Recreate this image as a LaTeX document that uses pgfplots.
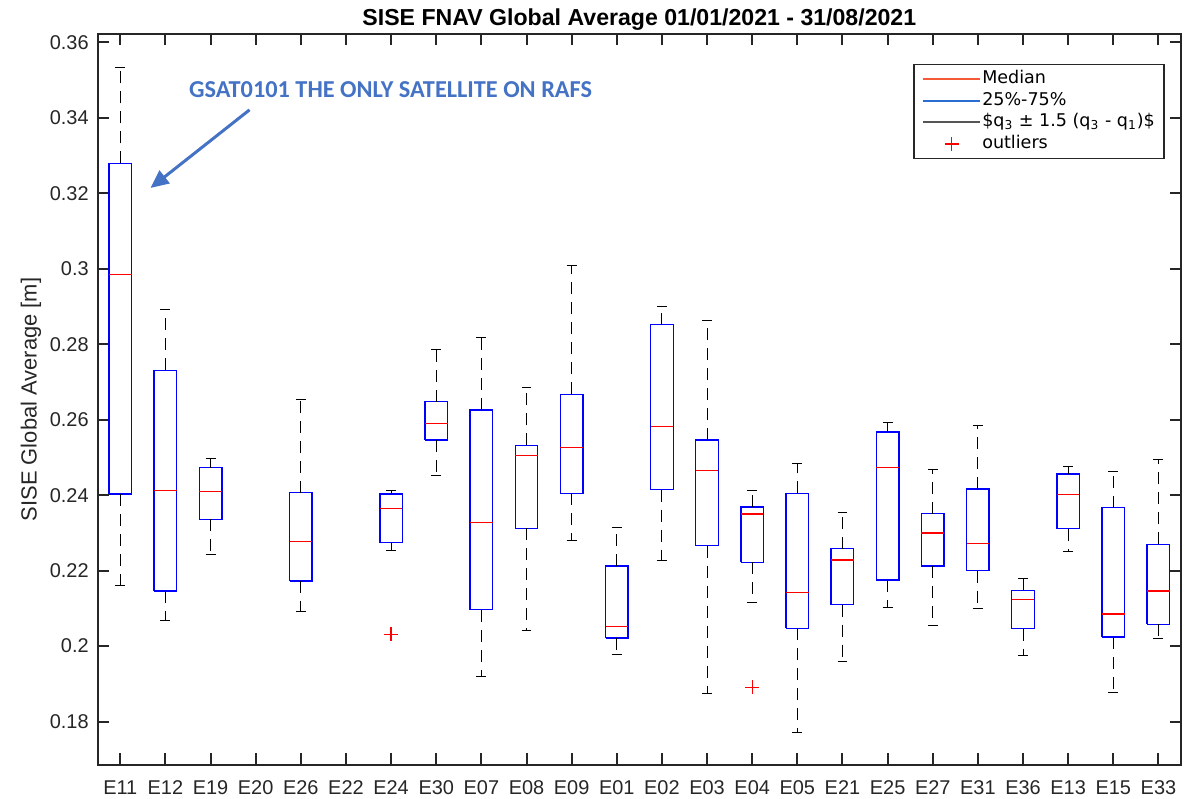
\documentclass[border=0pt]{standalone}
\usepackage{pgfplots}
\pgfplotsset{compat=1.18}
\usetikzlibrary{arrows.meta}
\usepackage{fontspec}
\setmainfont{Liberation Sans}
\newfontfamily\legfont{DejaVu Sans}
\newfontfamily\calib{Carlito}

\definecolor{axgray}{RGB}{38,38,38}
\definecolor{annblue}{RGB}{68,114,196}
\definecolor{legred}{RGB}{245,90,55}
\definecolor{legblue}{RGB}{40,110,210}
\definecolor{leggray}{RGB}{85,85,85}
\definecolor{outred}{RGB}{255,0,0}

\pgfplotsset{
  lineleg/.style={legend image code/.code={\draw[##1] (0bp,0bp) -- (28.5bp,0bp);}},
  markleg/.style={legend image code/.code={\draw[##1] (10.75bp,0bp) -- (17.75bp,0bp) (14.25bp,-3.5bp) -- (14.25bp,3.5bp);}},
}

% one box: #1 = position-1, #2 = position, then lower whisker, q1, median, q3, upper whisker
\newcommand{\satbox}[7]{%
  \addplot[forget plot, blue, line width=0.7bp]
    coordinates {(#1.75,#4) (#2.25,#4) (#2.25,#6) (#1.75,#6) (#1.75,#4)};
  \addplot[forget plot, red, line width=0.6bp]
    coordinates {(#1.75,#5) (#2.25,#5)};
  \addplot[forget plot, black, line width=0.5bp, dash pattern=on 6bp off 4bp]
    coordinates {(#2,#6) (#2,#7) (#2,nan) (#2,#4) (#2,#3)};
  \addplot[forget plot, black, line width=0.5bp]
    coordinates {(#1.89,#7) (#2.11,#7) (#2,nan) (#1.89,#3) (#2.11,#3)};
}

\begin{document}
\begin{tikzpicture}
\useasboundingbox (-48.85bp,-17bp) rectangle (547.15bp,382.5bp);
\begin{axis}[
  at={(0,0)}, anchor=south west,
  scale only axis,
  width=541.65bp, height=365.5bp,
  xmin=0.5, xmax=24.5,
  ymin=0.1685, ymax=0.3622,
  unbounded coords=jump,
  xtick={1,...,24},
  xticklabels={E11,E12,E19,E20,E26,E22,E24,E30,E07,E08,E09,E01,E02,E03,E04,E05,E21,E25,E27,E31,E36,E13,E15,E33},
  ytick={0.18,0.2,0.22,0.24,0.26,0.28,0.3,0.32,0.34,0.36},
  scaled y ticks=false,
  yticklabel style={/pgf/number format/fixed, /pgf/number format/precision=2, xshift=-1bp},
  xticklabel style={yshift=-4.2bp},
  /pgf/number format/assume math mode=true,
  tick label style={font=\fontsize{10}{12}\selectfont, text=axgray},
  tick align=inside,
  major tick length=5.75bp,
  tick style={line width=1bp, color=axgray},
  axis line style={line width=1bp, color=axgray},
  every axis title shift=0pt,
  title={\bfseries SISE FNAV Global Average 01/01/2021 - 31/08/2021},
  title style={font=\fontsize{11.6}{13}\selectfont, at={(axis description cs:0.5,1)}, anchor=base, yshift=4.4bp},
  ylabel={SISE Global Average [m]},
  ylabel style={font=\fontsize{11}{13}\selectfont, text=axgray, at={(axis description cs:0,0.5)}, anchor=center, yshift=33.4bp},
  legend style={at={(0.7529,0.959)}, anchor=north west, draw=axgray, line width=0.75bp,
    font=\legfont\fontsize{8.8}{10}\selectfont, inner xsep=4bp, inner ysep=2bp,
    cells={anchor=west}, nodes={inner sep=0.6bp, text height=7bp, text depth=2.5bp}},
  lineleg,
]
\addlegendimage{legred, line width=1bp}
\addlegendentry{Median}
\addlegendimage{legblue, line width=1bp}
\addlegendentry{25\%-75\%}
\addlegendimage{leggray, line width=1bp}
\addlegendentry{\$q\textsubscript{3} ± 1.5 (q\textsubscript{3} - q\textsubscript{1})\$}
\addlegendimage{markleg, outred, line width=0.9bp}
\addlegendentry{outliers}

\satbox{0}{1}{0.2160}{0.2403}{0.2984}{0.3279}{0.3534}
\satbox{1}{2}{0.2068}{0.2146}{0.2413}{0.2731}{0.2893}
\satbox{2}{3}{0.2244}{0.2336}{0.2409}{0.2473}{0.2498}
\satbox{4}{5}{0.2093}{0.2173}{0.2278}{0.2407}{0.2654}
\satbox{6}{7}{0.2254}{0.2274}{0.2364}{0.2403}{0.2412}
\satbox{7}{8}{0.2451}{0.2546}{0.2589}{0.2648}{0.2786}
\satbox{8}{9}{0.1919}{0.2097}{0.2327}{0.2626}{0.2817}
\satbox{9}{10}{0.2042}{0.2312}{0.2505}{0.2532}{0.2686}
\satbox{10}{11}{0.2281}{0.2405}{0.2526}{0.2667}{0.3008}
\satbox{11}{12}{0.1978}{0.2022}{0.2051}{0.2212}{0.2314}
\satbox{12}{13}{0.2228}{0.2415}{0.2583}{0.2852}{0.2901}
\satbox{13}{14}{0.1874}{0.2266}{0.2465}{0.2546}{0.2862}
\satbox{14}{15}{0.2115}{0.2222}{0.2350}{0.2369}{0.2413}
\satbox{15}{16}{0.1772}{0.2047}{0.2143}{0.2405}{0.2483}
\satbox{16}{17}{0.1958}{0.2110}{0.2228}{0.2258}{0.2354}
\satbox{17}{18}{0.2102}{0.2175}{0.2474}{0.2567}{0.2592}
\satbox{18}{19}{0.2055}{0.2212}{0.2300}{0.2351}{0.2467}
\satbox{19}{20}{0.2100}{0.2200}{0.2271}{0.2416}{0.2585}
\satbox{20}{21}{0.1974}{0.2046}{0.2123}{0.2148}{0.2179}
\satbox{21}{22}{0.2250}{0.2311}{0.2401}{0.2456}{0.2476}
\satbox{22}{23}{0.1877}{0.2024}{0.2085}{0.2367}{0.2464}
\satbox{23}{24}{0.2020}{0.2058}{0.2146}{0.2270}{0.2494}

% outliers
\addplot[forget plot, only marks, mark=+, mark size=3.5bp, red, line width=0.6bp]
  coordinates {(7,0.2031) (15,0.1891)};

\draw[annblue, line width=1.5bp, -{Triangle[length=9bp, width=8bp]}]
  (axis cs:3.864,0.3421) -- (axis cs:1.671,0.3214);
\node[text=annblue, font=\calib\bfseries\fontsize{12.2}{14}\selectfont, inner sep=0pt]
  at (axis cs:6.988,0.3474) {GSAT0101 THE ONLY SATELLITE ON RAFS};
\end{axis}
\end{tikzpicture}
\end{document}
